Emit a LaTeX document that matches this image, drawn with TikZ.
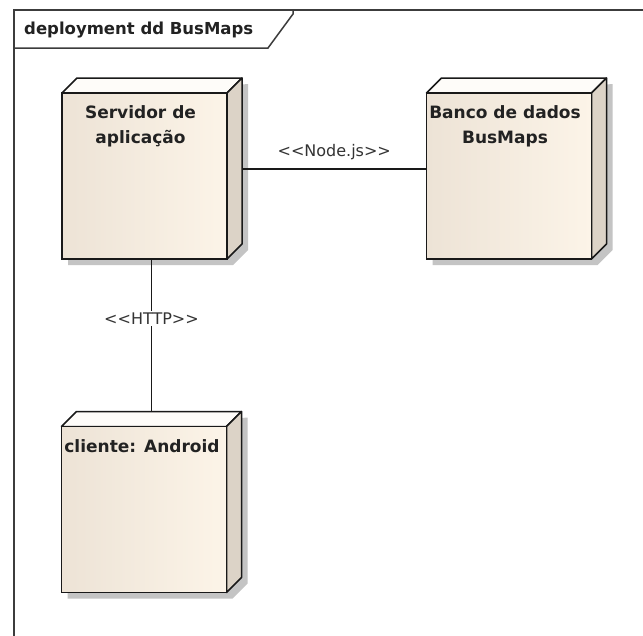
\documentclass[tikz,border=0pt]{standalone}
\usepackage{fontspec}
\setmainfont{DejaVu Sans}
\usetikzlibrary{calc,backgrounds}

\definecolor{frameline}{HTML}{3C3C3C}
\definecolor{faceL}{HTML}{EDE3D6}
\definecolor{faceR}{HTML}{FCF4E8}
\definecolor{faceSide}{HTML}{DCD3C7}
\definecolor{faceTop}{HTML}{FEFCF9}
\definecolor{shadowgray}{HTML}{C4C4C4}
\definecolor{textdark}{HTML}{222222}
\definecolor{labelgray}{HTML}{333333}

\tikzset{
  nodefront/.style={draw=black!90, line width=1.5pt, left color=faceL, right color=faceR,
    minimum width=165pt, minimum height=166pt, inner sep=0pt, outer sep=0pt},
  facetop/.style={draw=black!90, line width=1.5pt, fill=faceTop, line join=round},
  faceside/.style={draw=black!90, line width=1.5pt, fill=faceSide, line join=round},
  nodetitle/.style={font=\bfseries\fontsize{17}{25}\selectfont, text=textdark, align=center, inner sep=0pt},
  conn/.style={draw=black!90, line width=1.5pt},
  connlabel/.style={font=\fontsize{16}{18}\selectfont, text=labelgray, inner sep=2pt},
  framestyle/.style={draw=frameline, line width=1.5pt},
}

% deployment node: front face plus top and side faces and a drop shadow
\newcommand\depnode[2]{%
  \node[nodefront] (#1) at (#2) {};
  \begin{scope}[on background layer]
    \fill[shadowgray] ($(#1.south west)+(6,6)$) -- ($(#1.north west)+(6,6)$)
      -- ($(#1.north east)+(21,-9)$) -- ($(#1.south east)+(21,-9)$)
      -- ($(#1.south east)+(6,6)$) -- cycle;
  \end{scope}
  \draw[facetop] (#1.north west) -- ++(15,-15) -- ($(#1.north east)+(15,-15)$) -- (#1.north east) -- cycle;
  \draw[faceside] (#1.north east) -- ++(15,-15) -- ($(#1.south east)+(15,-15)$) -- (#1.south east) -- cycle;
  \node[nodefront] at (#1.center) {};
}

% stereotype brackets written as separate glyphs
\newcommand\stereo[1]{<\kern0pt<#1>\kern0pt>}

\begin{document}
\begin{tikzpicture}[x=1pt,y=-1pt]
  \useasboundingbox (0,0) rectangle (643,635);
  \begin{scope}[on background layer]
    \fill[white] (0,0) rectangle (643,635);
  \end{scope}

  % diagram frame with its name tab
  \begin{scope}
    \clip (0,0) rectangle (643,635);
    \draw[framestyle] (14,640) -- (14,10) -- (650,10);
    \draw[framestyle] (14,48) -- (268,48) -- (293,14) -- (293,10);
  \end{scope}
  \node[font=\bfseries\fontsize{16.5}{20}\selectfont, text=textdark, anchor=west, inner sep=0pt]
    (frametitle) at (24,30) {deployment dd BusMaps};

  % nodes
  \depnode{srv}{144.5,176}
  \depnode{db}{509,176}
  \depnode{cli}{144,509.5}

  \node[nodetitle] (srvtitle) at ($(srv.north)+(-4,33)$) {Servidor de\\aplicação};
  \node[nodetitle] (dbtitle) at ($(db.north)+(-4,33)$) {Banco de dados\\BusMaps};
  \node[nodetitle] (clititle) at ($(cli.north)+(-2,20)$) {cliente: Android};

  % connectors
  \path (srv.east) ++(15,-7) coordinate (nj1);
  \draw[conn] (nj1) -- (nj1 -| db.west)
    node[midway, above=6pt, connlabel] (njlabel) {\stereo{Node.js}};

  \path (cli.north) ++(7.5,-15) coordinate (ht2);
  \draw[conn] (srv.south -| ht2) -- (ht2)
    node[pos=0.39, fill=white, connlabel] (htlabel) {\stereo{HTTP}};
\end{tikzpicture}
\end{document}
